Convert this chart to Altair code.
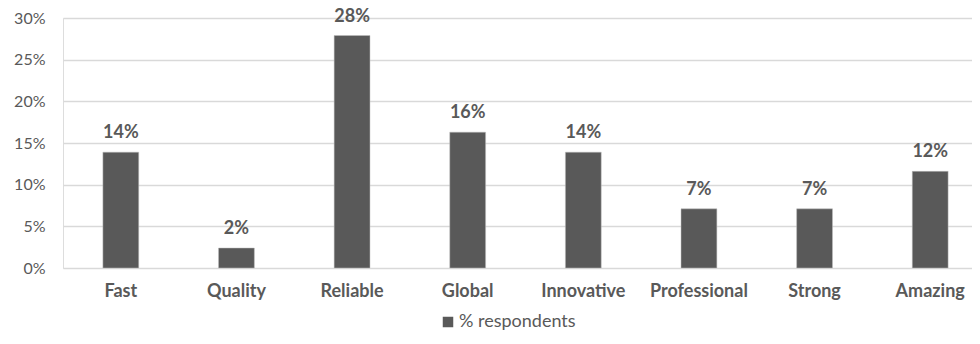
import altair as alt
import pandas as pd

categories = ["Fast", "Quality", "Reliable", "Global", "Innovative", "Professional", "Strong", "Amazing"]
values = [0.139, 0.024, 0.279, 0.163, 0.139, 0.071, 0.071, 0.116]
series = "% respondents"

df = pd.DataFrame({"cat": categories, "val": values, "series": [series] * len(categories)})

FONT = "Lato"
GREY = "#595959"

x = alt.X("cat:N", sort=categories, title=None,
          scale=alt.Scale(paddingInner=0.69, paddingOuter=0.345),
          axis=alt.Axis(labelAngle=0, labelFontWeight="bold", labelFontSize=18, labelColor=GREY,
                        labelFont=FONT, ticks=False, tickSize=0, domain=False, labelPadding=14,
                        grid=False))
y = alt.Y("val:Q", title=None,
          scale=alt.Scale(domain=[0, 0.3], nice=False),
          axis=alt.Axis(format=".0%", values=[0, 0.05, 0.1, 0.15, 0.2, 0.25, 0.3], labelFontSize=16,
                        labelColor=GREY, labelFont=FONT, ticks=False, tickSize=0, domain=False,
                        labelPadding=18, gridColor="#d9d9d9", gridWidth=1.5))

bars = alt.Chart(df).mark_bar(stroke="#bfbfbf", strokeWidth=0.5).encode(
    x=x, y=y,
    color=alt.Color("series:N", scale=alt.Scale(range=[GREY]),
                    legend=alt.Legend(orient="none", legendX=376, legendY=295, title=None,
                                      symbolType="square", symbolSize=110, symbolStrokeWidth=0,
                                      labelFontSize=18, labelColor=GREY, labelFont=FONT,
                                      labelOffset=2)),
)

labels = alt.Chart(df).mark_text(baseline="alphabetic", dy=-14, fontSize=18, fontWeight="bold",
                                 color=GREY, font=FONT).encode(
    x=alt.X("cat:N", sort=categories),
    y=alt.Y("val:Q"),
    text=alt.Text("val:Q", format=".0%"),
)

chart = (bars + labels).properties(
    width=925, height=250,
    autosize=alt.AutoSizeParams(type="none"),
    padding={"left": 55, "top": 10, "right": -16, "bottom": 68},
).configure_view(stroke=None).configure(background="white")

chart.save("out.html", embed_options={"renderer": "svg", "actions": False})
